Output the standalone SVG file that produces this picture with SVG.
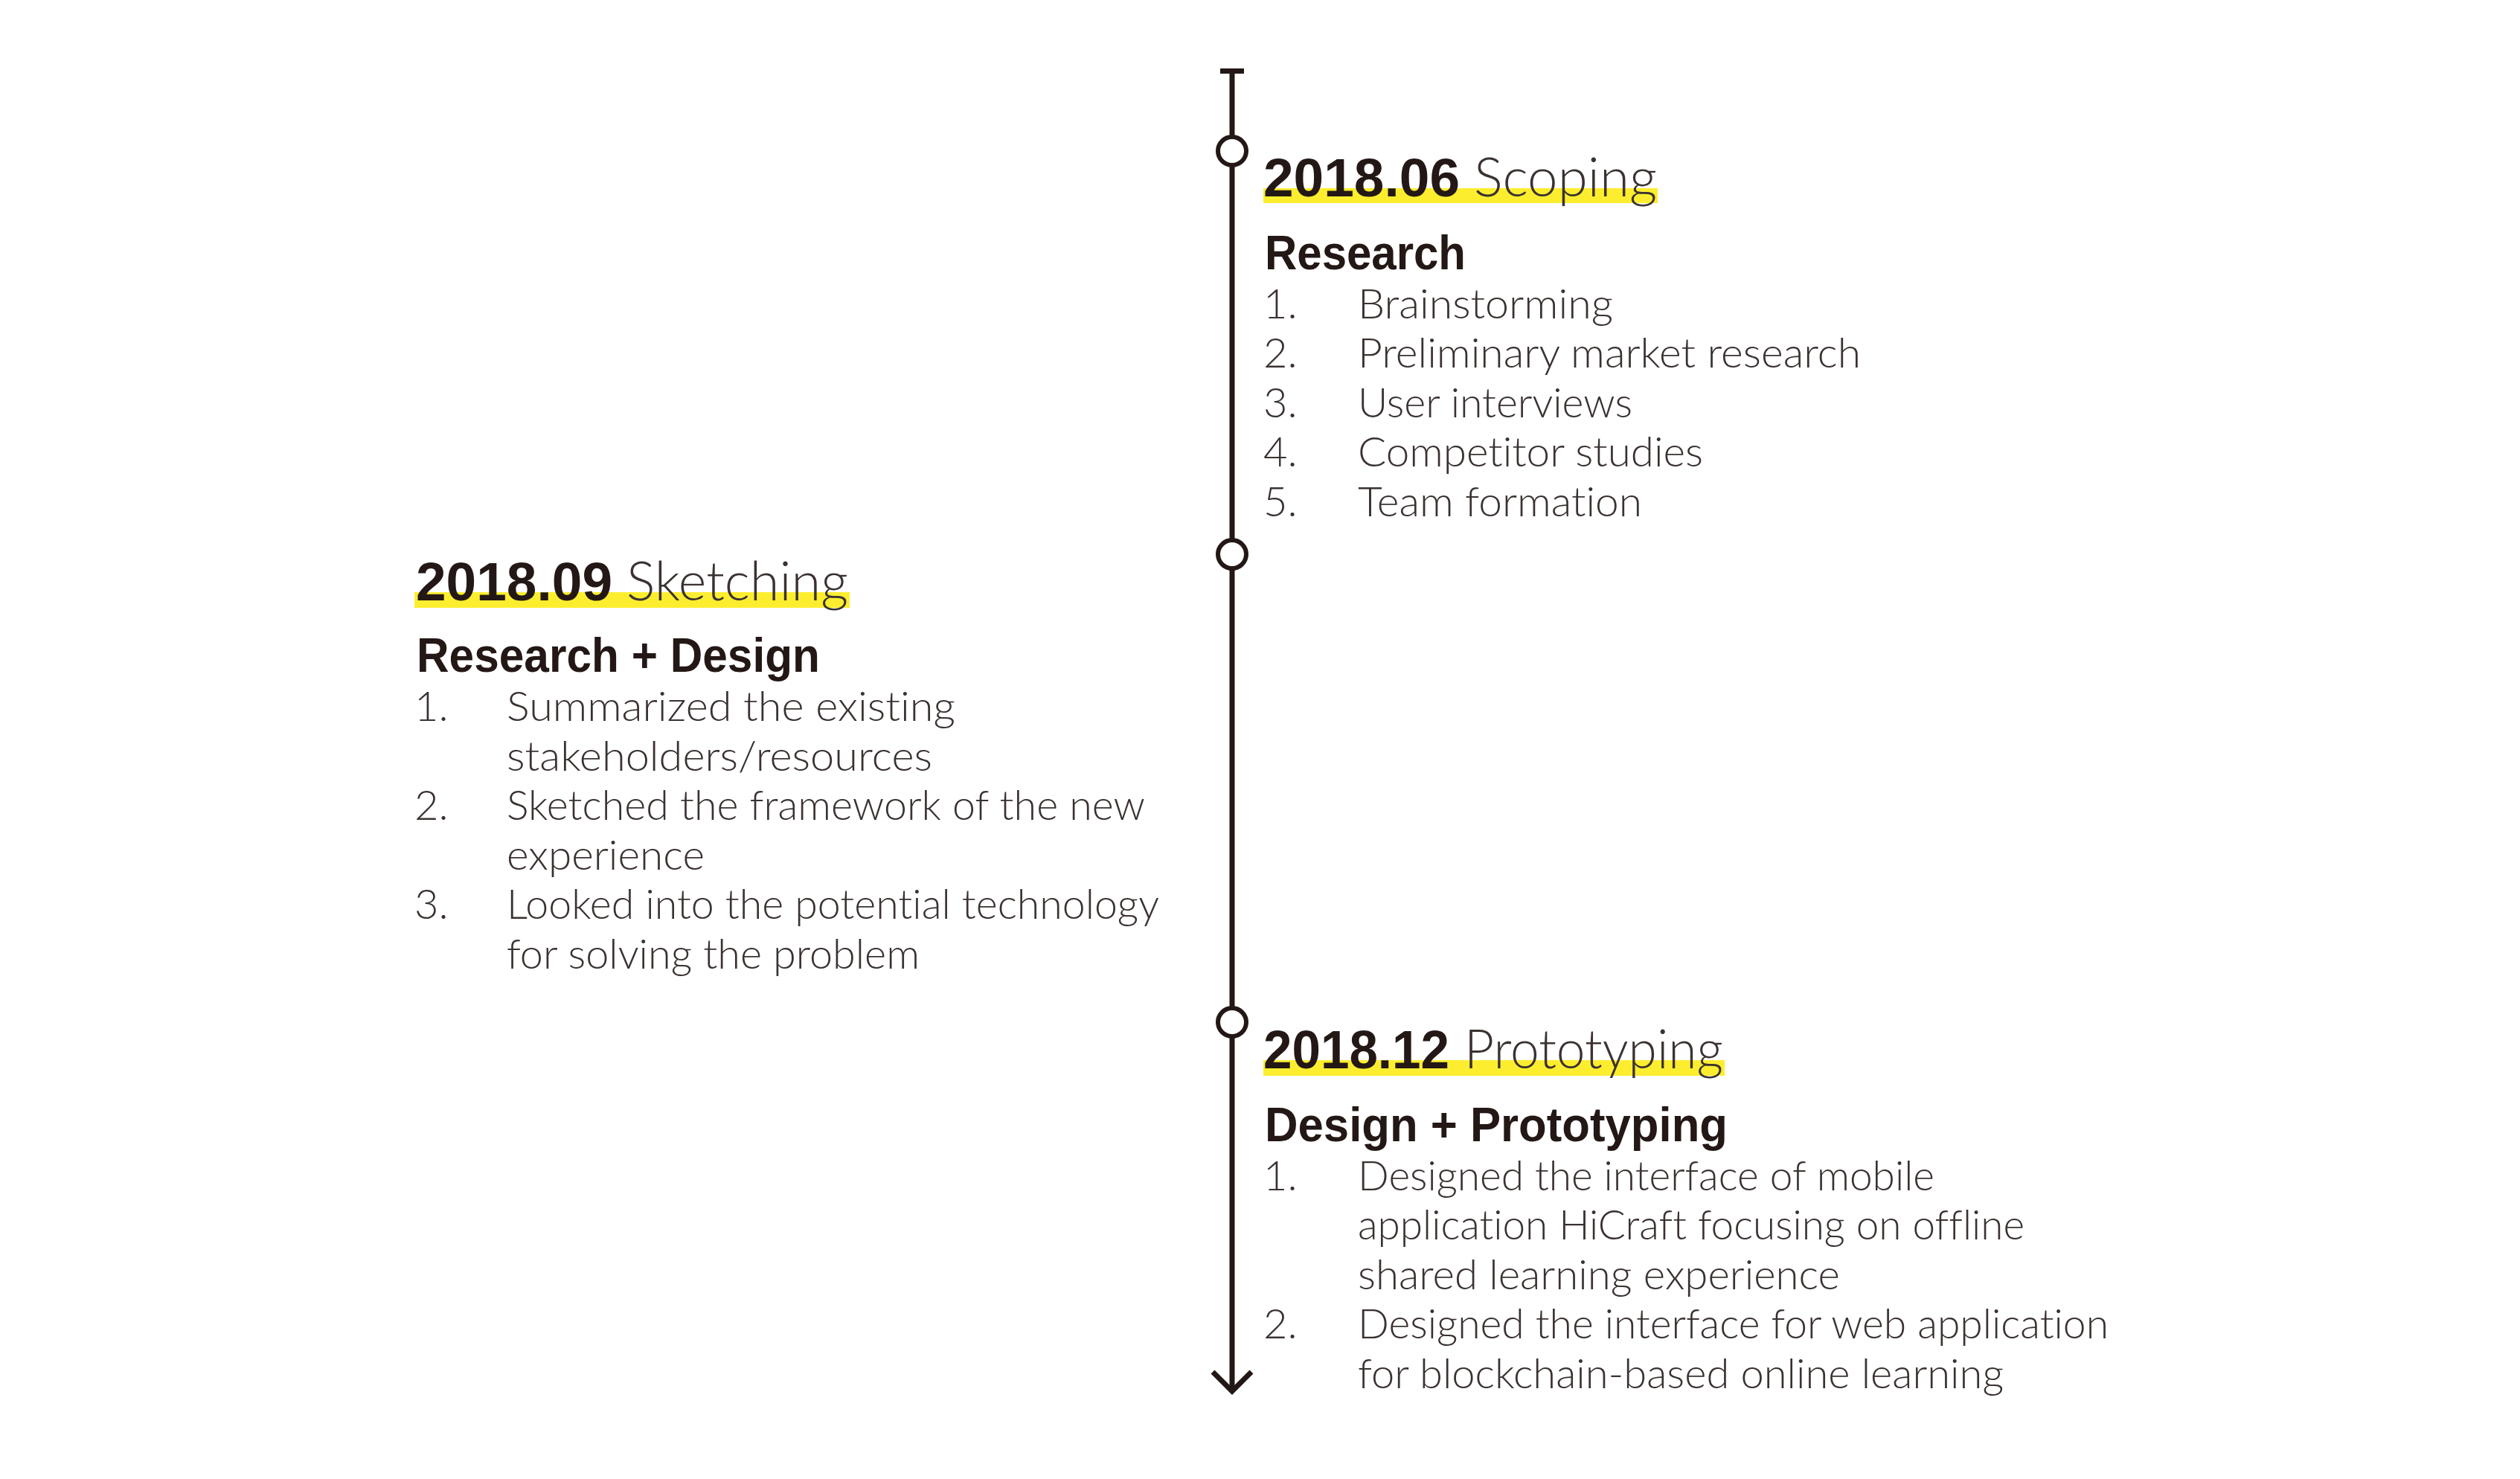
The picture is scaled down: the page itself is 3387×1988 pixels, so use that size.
<svg xmlns="http://www.w3.org/2000/svg" width="3387" height="1988" viewBox="0 0 3387 1988">
<style>
.bg{fill:#ffffff}
.hl{fill:#fcee2f}
.date{font-family:"Liberation Sans",Arial,sans-serif;font-weight:700;font-size:72px;fill:#231815}
.phase{font-family:Lato,Roboto,"Liberation Sans",sans-serif;font-weight:300;font-size:72px;fill:#3a3230;font-variant-ligatures:none}
.head{font-family:"Liberation Sans",Arial,sans-serif;font-weight:700;font-size:65px;fill:#231815}
.item{font-family:Lato,Roboto,"Liberation Sans",sans-serif;font-weight:300;font-size:56px;fill:#3a3230;font-variant-ligatures:none}
.tl{stroke:#231815;stroke-width:7;fill:none}
.dot{stroke:#231815;stroke-width:6;fill:#ffffff}
</style>
<rect class="bg" x="0" y="0" width="3387" height="1988"/>
<g id="connectors">
<line class="tl" x1="1656" y1="95" x2="1656" y2="1868"/>
<line class="tl" x1="1640" y1="95.5" x2="1672" y2="95.5"/>
<polyline class="tl" points="1630,1844 1656,1870 1682,1844"/>
<circle class="dot" cx="1656" cy="203" r="19"/>
<circle class="dot" cx="1656" cy="745" r="19"/>
<circle class="dot" cx="1656" cy="1374" r="19"/>
</g>
<g id="node-scoping">
<rect class="hl" x="1698" y="253" width="530" height="20"/>
<text class="date" x="1698" y="264" textLength="264" lengthAdjust="spacingAndGlyphs">2018.06</text>
<text class="phase" x="1981" y="264" textLength="246" lengthAdjust="spacingAndGlyphs">Scoping</text>
<text class="head" x="1700" y="362" textLength="270" lengthAdjust="spacingAndGlyphs">Research</text>
<text class="item" x="1698" y="428">1.</text>
<text class="item" x="1825" y="428" textLength="343" lengthAdjust="spacingAndGlyphs">Brainstorming</text>
<text class="item" x="1698" y="494">2.</text>
<text class="item" x="1825" y="494" textLength="676" lengthAdjust="spacingAndGlyphs">Preliminary market research</text>
<text class="item" x="1698" y="561">3.</text>
<text class="item" x="1825" y="561" textLength="369" lengthAdjust="spacingAndGlyphs">User interviews</text>
<text class="item" x="1698" y="627">4.</text>
<text class="item" x="1825" y="627" textLength="464" lengthAdjust="spacingAndGlyphs">Competitor studies</text>
<text class="item" x="1698" y="694">5.</text>
<text class="item" x="1825" y="694" textLength="382" lengthAdjust="spacingAndGlyphs">Team formation</text>
</g>
<g id="node-sketching">
<rect class="hl" x="557" y="796" width="585" height="21"/>
<text class="date" x="559" y="807" textLength="264" lengthAdjust="spacingAndGlyphs">2018.09</text>
<text class="phase" x="842" y="807" textLength="298" lengthAdjust="spacingAndGlyphs">Sketching</text>
<text class="head" x="560" y="903" textLength="542" lengthAdjust="spacingAndGlyphs">Research + Design</text>
<text class="item" x="557" y="969">1.</text>
<text class="item" x="681" y="969" textLength="603" lengthAdjust="spacingAndGlyphs">Summarized the existing</text>
<text class="item" x="681" y="1036" textLength="572" lengthAdjust="spacingAndGlyphs">stakeholders/resources</text>
<text class="item" x="557" y="1102">2.</text>
<text class="item" x="681" y="1102" textLength="858" lengthAdjust="spacingAndGlyphs">Sketched the framework of the new</text>
<text class="item" x="681" y="1169" textLength="266" lengthAdjust="spacingAndGlyphs">experience</text>
<text class="item" x="557" y="1235">3.</text>
<text class="item" x="681" y="1235" textLength="877" lengthAdjust="spacingAndGlyphs">Looked into the potential technology</text>
<text class="item" x="681" y="1302" textLength="555" lengthAdjust="spacingAndGlyphs">for solving the problem</text>
</g>
<g id="node-prototyping">
<rect class="hl" x="1698" y="1425" width="620" height="21"/>
<text class="date" x="1698" y="1436" textLength="250" lengthAdjust="spacingAndGlyphs">2018.12</text>
<text class="phase" x="1968" y="1436" textLength="348" lengthAdjust="spacingAndGlyphs">Prototyping</text>
<text class="head" x="1700" y="1534" textLength="622" lengthAdjust="spacingAndGlyphs">Design + Prototyping</text>
<text class="item" x="1698" y="1600">1.</text>
<text class="item" x="1825" y="1600" textLength="775" lengthAdjust="spacingAndGlyphs">Designed the interface of mobile</text>
<text class="item" x="1825" y="1666" textLength="896" lengthAdjust="spacingAndGlyphs">application HiCraft focusing on offline</text>
<text class="item" x="1825" y="1733" textLength="648" lengthAdjust="spacingAndGlyphs">shared learning experience</text>
<text class="item" x="1698" y="1799">2.</text>
<text class="item" x="1825" y="1799" textLength="1009" lengthAdjust="spacingAndGlyphs">Designed the interface for web application</text>
<text class="item" x="1825" y="1866" textLength="868" lengthAdjust="spacingAndGlyphs">for blockchain-based online learning</text>
</g>
</svg>
